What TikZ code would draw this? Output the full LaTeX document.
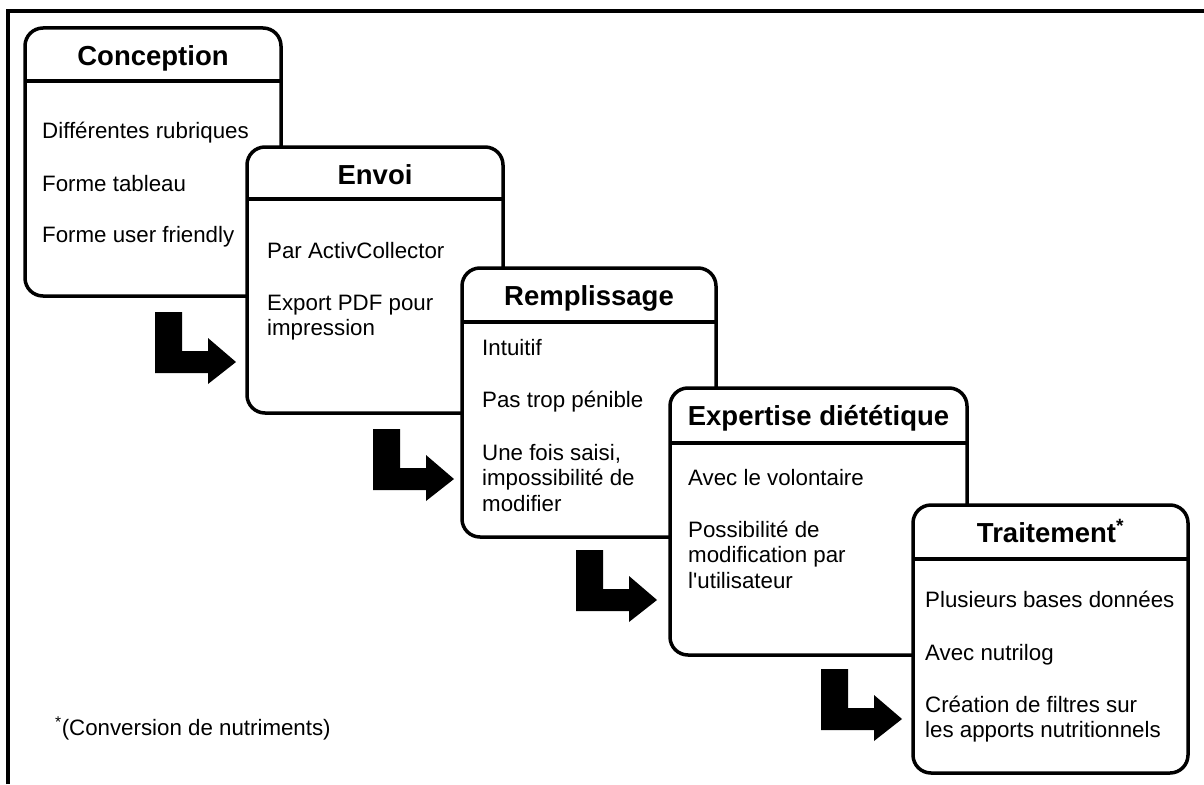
\documentclass[tikz,border=0pt]{standalone}
\usepackage{fontspec}
\setmainfont{Liberation Sans}
\begin{document}
\begin{tikzpicture}[x=1pt,y=-1pt,
  stage/.style={draw=black, line width=3.5pt, rounded corners=18pt, fill=white, inner sep=0pt, outer sep=0pt},
  divider/.style={line width=3.5pt},
  heading/.style={anchor=base, inner sep=0pt, font=\bfseries\fontsize{27.5}{30}\selectfont},
  item/.style={anchor=base west, inner sep=0pt, align=left, font=\fontsize{22.3}{25.5}\selectfont},
  frameline/.style={line width=4pt},
  bentarrow/.pic={\fill[black] (0,0) -- (27,0) -- (27,39) -- (53,39) -- (53,26) -- (81,50) -- (53,72) -- (53,61) -- (0,61) -- cycle;}]

\useasboundingbox (0,0) rectangle (1204,784);

% frame (top and left edges)
\coordinate (fb) at (8,784);
\coordinate (fc) at (8,11);
\coordinate (fr) at (1204,11);
\draw[frameline] (fb) -- (fc) -- (fr);

% levels of the title separators
\coordinate (d1) at (0,81);
\coordinate (d2) at (0,199);
\coordinate (d3) at (0,322);
\coordinate (d4) at (0,443);
\coordinate (d5) at (0,559);

% multi-line items are placed by the baseline of their last line

% Stage 1
\node[stage, minimum width=256pt, minimum height=268pt] (b1) at (153,162) {};
\draw[divider] (b1.west |- d1) -- (b1.east |- d1);
\node[heading] (h1) at (153,66) {Conception};
\node[item] (i1a) at (42,138) {Différentes rubriques};
\node[item] (i1b) at (42,191) {Forme tableau};
\node[item] (i1c) at (42,242) {Forme user friendly};
\pic at (155,312) {bentarrow};

% Stage 2
\node[stage, minimum width=256pt, minimum height=266pt] (b2) at (375,280) {};
\draw[divider] (b2.west |- d2) -- (b2.east |- d2);
\node[heading] (h2) at (375,184) {Envoi};
\node[item] (i2a) at (267,258) {Par ActivCollector};
\node[item] (i2b) at (267,335.5) {Export PDF pour\\impression};
\pic at (373,429) {bentarrow};

% Stage 3
\node[stage, minimum width=254pt, minimum height=269pt] (b3) at (589,402.5) {};
\draw[divider] (b3.west |- d3) -- (b3.east |- d3);
\node[heading] (h3) at (589,305) {Remplissage};
\node[item] (i3a) at (482,355) {Intuitif};
\node[item] (i3b) at (482,407) {Pas trop pénible};
\node[item] (i3c) at (482,511) {Une fois saisi,\\impossibilité de\\modifier};
\pic at (576,550) {bentarrow};

% Stage 4
\node[stage, minimum width=297pt, minimum height=267pt] (b4) at (818.5,521.5) {};
\draw[divider] (b4.west |- d4) -- (b4.east |- d4);
\node[heading] (h4) at (818.5,425) {Expertise diététique};
\node[item] (i4a) at (688,485) {Avec le volontaire};
\node[item] (i4b) at (688,588) {Possibilité de\\modification par\\l\textquotesingle utilisateur};
\pic at (821,669) {bentarrow};

% Stage 5
\node[stage, minimum width=275pt, minimum height=268pt] (b5) at (1050.5,639) {};
\draw[divider] (b5.west |- d5) -- (b5.east |- d5);
\node[heading] (h5) at (1050.5,542) {Traitement\textsuperscript{*}};
\node[item] (i5a) at (925,607) {Plusieurs bases données};
\node[item] (i5b) at (925,660) {Avec nutrilog};
\node[item] (i5c) at (925,737.5) {Création de filtres sur\\les apports nutritionnels};

% footnote
\node[item] (note) at (55,735) {\textsuperscript{*}(Conversion de nutriments)};
\end{tikzpicture}
\end{document}
